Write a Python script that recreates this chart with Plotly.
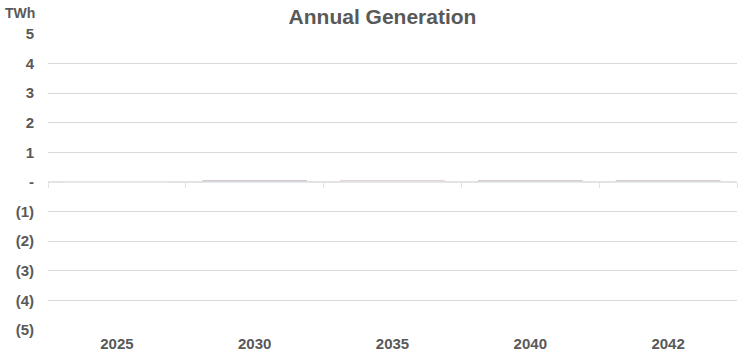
import plotly.graph_objects as go

years = ["2025", "2030", "2035", "2040", "2042"]
generation_twh = [0.0, 0.05, 0.05, 0.05, 0.05]
bar_colors = ["#d3cacd", "#d3c9cd", "#e4d4d8", "#d6cdd0", "#d6cdd0"]

y_ticks = [5, 4, 3, 2, 1, 0, -1, -2, -3, -4, -5]
y_tick_text = ["5", "4", "3", "2", "1", "-", "(1)", "(2)", "(3)", "(4)", "(5)"]

label_font = dict(family="Liberation Sans", size=15, color="#595959")

fig = go.Figure()
fig.add_trace(go.Bar(
    x=years, y=generation_twh, marker=dict(color=bar_colors, line=dict(width=0)),
    hoverinfo="x+y", showlegend=False,
))

fig.update_layout(
    width=750, height=358,
    margin=dict(l=48, r=13, t=34, b=28, autoexpand=False),
    paper_bgcolor="white", plot_bgcolor="white",
    bargap=0.24,
    title=dict(text="<b>Annual Generation</b>", x=0.51, xanchor="center",
               y=0.975, yanchor="top",
               font=dict(family="Liberation Sans", size=21, color="#595959")),
    xaxis=dict(
        type="category", showgrid=False, showline=False, ticks="",
        tickfont=label_font, ticklabelstandoff=3, automargin=False,
        tickprefix="<b>", ticksuffix="</b>",
    ),
    xaxis2=dict(
        type="category", overlaying="x", matches="x", anchor="free", position=0.5,
        showline=True, linecolor="#e3e3e3", linewidth=2, layer="below traces",
        ticks="outside", tickson="boundaries", ticklen=5, tickcolor="#e3e3e3",
        showticklabels=False, showgrid=False,
    ),
    yaxis=dict(
        range=[-5, 5], tickvals=y_ticks, ticktext=["<b>%s</b>" % t for t in y_tick_text],
        showgrid=True, gridcolor="#d9d9d9", gridwidth=1, zeroline=False,
        showline=False, ticks="", tickfont=label_font, ticklabelstandoff=13,
        automargin=False,
    ),
    annotations=[dict(
        text="<b>TWh</b>", xref="paper", yref="paper", x=-0.041, y=1.0,
        xanchor="center", yanchor="bottom", showarrow=False, yshift=11,
        font=dict(family="Liberation Sans", size=14, color="#595959"),
    )],
)

# empty trace so the boundary axis at zero is drawn
fig.add_trace(go.Bar(x=years, y=[0] * len(years), xaxis="x2", showlegend=False,
                     hoverinfo="skip", marker=dict(color="rgba(0,0,0,0)")))

fig.write_html("out.html")
